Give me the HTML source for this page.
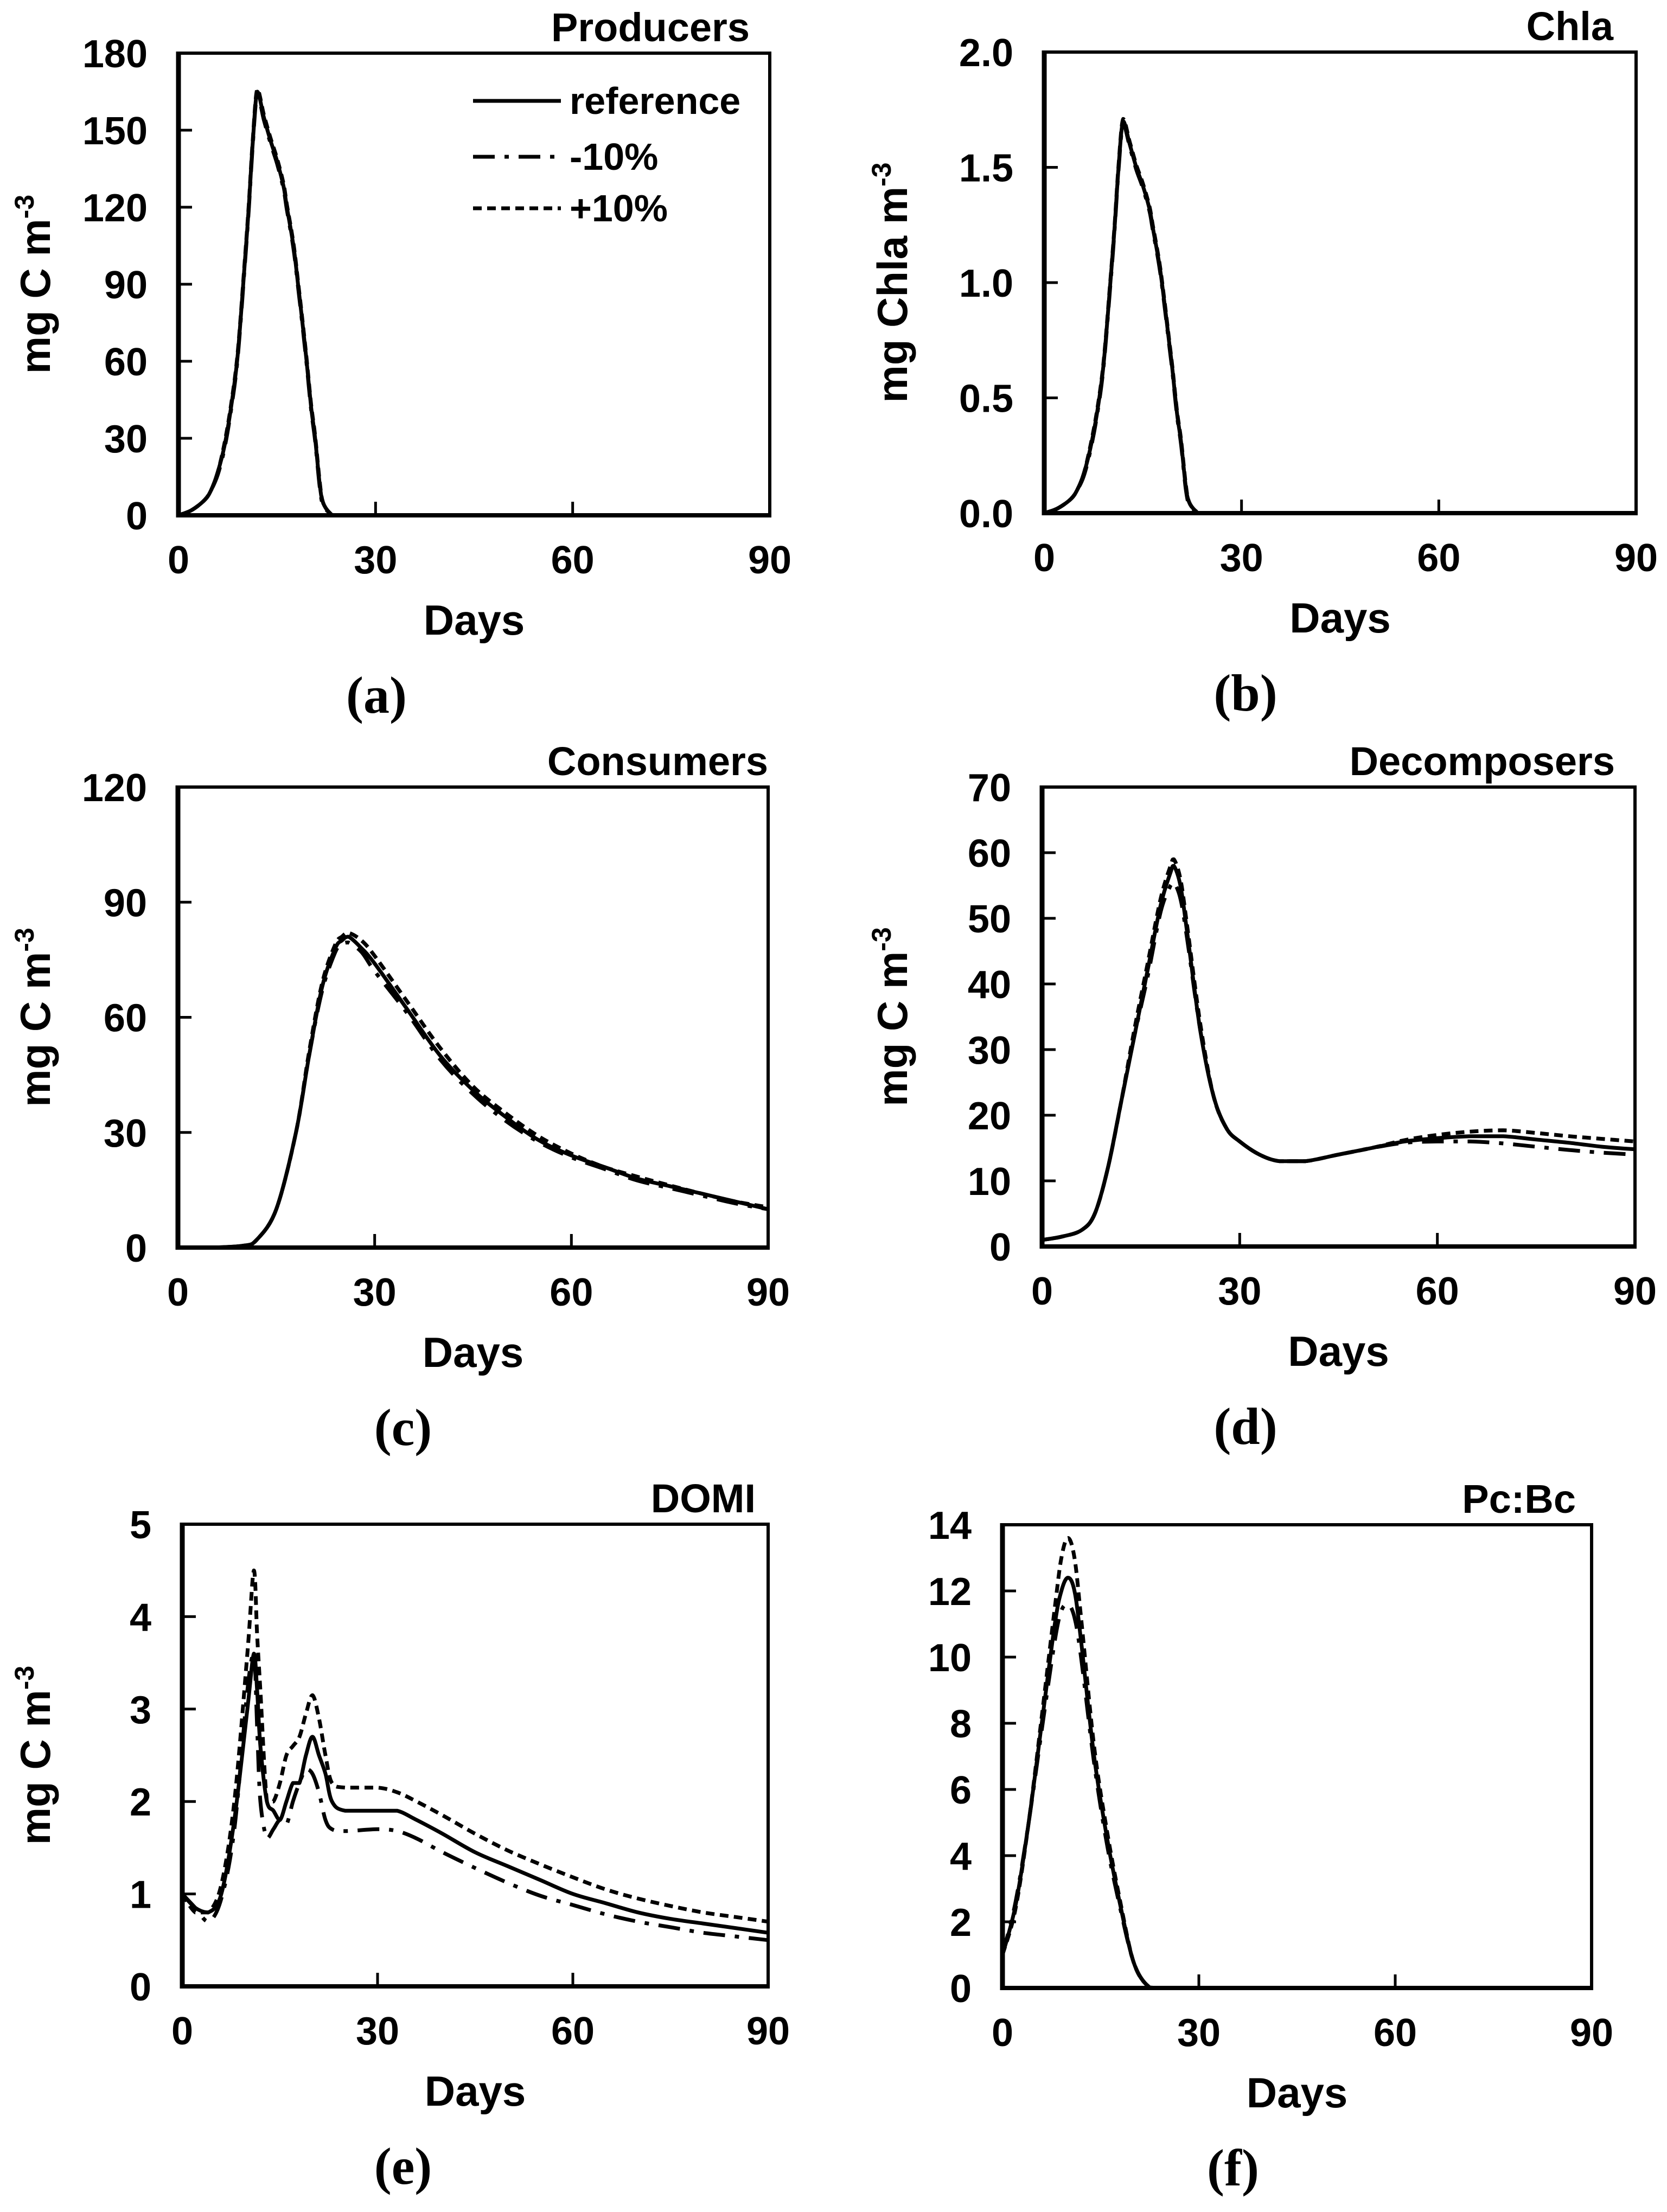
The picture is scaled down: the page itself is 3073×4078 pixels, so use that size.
<!DOCTYPE html>
<html>
<head>
<meta charset="utf-8">
<style>
  html, body { margin: 0; padding: 0; background: #fff; }
  svg { display: block; }
  text { font-family: "Liberation Sans", Arial, sans-serif; fill: #000; }
  .tick { font-size: 72px; font-weight: bold; }
  .atitle { font-size: 78px; font-weight: bold; }
  .ptitle { font-size: 74px; font-weight: bold; }
  .plabel { font-family: "Liberation Serif", "Times New Roman", serif; font-size: 96px; font-weight: bold; }
  .leg { font-size: 70px; font-weight: bold; }
</style>
</head>
<body>
<svg id="fig" xmlns="http://www.w3.org/2000/svg" width="3073" height="4078" viewBox="0 0 3073 4078"></svg>
<script>
// ---------------- DATA ----------------
const xTicks = [0, 30, 60, 90];
const xTickLabels = ["0", "30", "60", "90"];

// (a) Producers
const aDays = [0,2,4,5,6,7,8,9,10,10.7,11.3,12,13,14,15,16,16.5,17.5,18.2,19,19.5,20.2,20.8,21.5,22,23,24,90];
const aRef  = [0,2,6,10,17,27,42,62,95,120,145,165,155,146,138,128,120,105,90,72,60,42,30,12,5,1,0,0];
const aMinus= [0,2,6,10,16,26,41,61,94,119,144,164,154,145,137,127,119,104,89,71,59,41,29,11,4,1,0,0];
const aPlus = [0,2,6,10,17,28,43,63,96,121,146,166,156,147,139,129,121,106,91,73,61,43,31,13,5,1,0,0];
const aYTicks = [0,30,60,90,120,150,180];
const aYLabels = ["0","30","60","90","120","150","180"];

// (b) Chla
const bDays = [0,2,4,5,6,7,8,9,10,10.7,11.3,12,13,14,15,16,16.5,17.5,18.2,19,19.5,20.2,20.8,21.5,22,23,24,90];
const bRef  = [0,0.02,0.06,0.1,0.17,0.28,0.43,0.64,0.98,1.24,1.5,1.70,1.6,1.5,1.42,1.32,1.24,1.08,0.93,0.74,0.62,0.43,0.31,0.12,0.05,0.01,0,0];
const bMinus= [0,0.02,0.06,0.1,0.16,0.27,0.42,0.63,0.97,1.23,1.49,1.69,1.59,1.49,1.41,1.31,1.23,1.07,0.92,0.73,0.61,0.42,0.3,0.11,0.04,0.01,0,0];
const bPlus = [0,0.02,0.06,0.1,0.17,0.29,0.44,0.65,0.99,1.25,1.51,1.71,1.61,1.51,1.43,1.33,1.25,1.09,0.94,0.75,0.63,0.44,0.32,0.13,0.05,0.01,0,0];
const bYTicks = [0,0.5,1.0,1.5,2.0];
const bYLabels = ["0.0","0.5","1.0","1.5","2.0"];

// (c) Consumers
const cDays = [0,5,10,12,15,18,20,22,24,25,26,28,30,35,40,45,50,55,60,65,70,75,80,85,90];
const cRef  = [0,0,0.5,2,10,30,50,68,78,80,81,78,74,62,50,41,34,28,24,21,18,16,14,12,10];
const cMinus= [0,0,0.5,2,10,30,50,67,77,79,79.5,77,72,61,49,40,33,27.5,23.5,20.5,17.5,15.5,13.5,11.5,10];
const cPlus = [0,0,0.5,2,10,30,51,69,79,81,82,80,76,64,52,42,35,29,24.5,21,18.5,16.2,14,12,10.5];
const cYTicks = [0,30,60,90,120];
const cYLabels = ["0","30","60","90","120"];

// (d) Decomposers
const dDays = [0,3,6,8,10,12,14,16,18,19.5,20,21,22,24,26,28,30,33,36,40,45,50,55,60,65,70,75,80,85,90];
const dRef  = [1,1.5,2.5,5,12,22,32,42,52,57,58,55,48,33,23,18,16,14,13,13,14,15,16,16.5,16.8,16.8,16.3,15.8,15.2,14.8];
const dMinus= [1,1.5,2.5,5,12,22,32,41,51,55,55.5,53,47,33,23,18,16,14,13,13,14,15,15.8,16,16,15.7,15.2,14.7,14.3,14];
const dPlus = [1,1.5,2.5,5,12,22,33,43,53,58,59,56,49,34,23,18,16,14,13,13,14,15,16.2,17,17.5,17.7,17.3,16.8,16.4,16];
const dYTicks = [0,10,20,30,40,50,60,70];
const dYLabels = ["0","10","20","30","40","50","60","70"];

// (e) DOMI
const eDays = [0,2,4,6,8,10,11,11.5,12,13,14,15,16,17,18,19,20,21,22,23,25,30,33,36,40,45,50,55,60,65,70,75,80,85,90];
const eRef  = [1,0.85,0.8,1.0,1.8,3.0,3.6,3.2,2.6,2.0,1.9,1.8,2.0,2.2,2.2,2.5,2.7,2.5,2.3,2.0,1.9,1.9,1.9,1.8,1.65,1.45,1.3,1.15,1.0,0.9,0.8,0.73,0.68,0.63,0.58];
const eMinus= [1,0.85,0.7,0.95,1.7,3.2,3.6,2.8,2.0,1.6,1.7,1.8,1.75,2.0,2.2,2.35,2.3,2.1,1.8,1.7,1.68,1.7,1.68,1.6,1.45,1.28,1.12,0.98,0.88,0.78,0.7,0.64,0.58,0.54,0.5];
const ePlus = [1,0.8,0.8,1.1,2.0,3.6,4.5,3.8,3.2,2.0,2.0,2.2,2.5,2.6,2.7,2.95,3.15,2.9,2.5,2.2,2.15,2.15,2.1,2.0,1.85,1.65,1.47,1.32,1.18,1.05,0.95,0.87,0.8,0.75,0.7];
const eYTicks = [0,1,2,3,4,5];
const eYLabels = ["0","1","2","3","4","5"];

// (f) Pc:Bc
const fDays = [0,2,4,6,8,9,10,11,12,14,16,18,20,22,24,90];
const fRef  = [1,2.5,5,8,11,12,12.4,12,10.5,7,4.5,2.5,0.8,0.1,0,0];
const fMinus= [1,2.6,5,7.8,10.5,11.4,11.6,11.2,10,6.8,4.3,2.4,0.8,0.1,0,0];
const fPlus = [1,2.4,5,8.2,11.5,13,13.6,13,11.2,7.3,4.7,2.6,0.8,0.1,0,0];
const fYTicks = [0,2,4,6,8,10,12,14];
const fYLabels = ["0","2","4","6","8","10","12","14"];

// ---------------- DRAWING ----------------
const NS = "http://www.w3.org/2000/svg";
const svg = document.getElementById("fig");
const DASH_MINUS = "40 18 8 18";
const DASH_PLUS = "16 10";

function mk(tag, attrs, parent) {
  const el = document.createElementNS(NS, tag);
  for (const k in attrs) el.setAttribute(k, attrs[k]);
  (parent || svg).appendChild(el);
  return el;
}

function clamp(v, a, b) { const lo = Math.min(a, b), hi = Math.max(a, b); return Math.max(lo, Math.min(hi, v)); }

// smooth path (Catmull-Rom with control points clamped to segment range)
function smoothPath(pts) {
  let d = "M" + pts[0][0].toFixed(1) + "," + pts[0][1].toFixed(1);
  for (let i = 0; i < pts.length - 1; i++) {
    const p0 = pts[Math.max(0, i - 1)], p1 = pts[i], p2 = pts[i + 1], p3 = pts[Math.min(pts.length - 1, i + 2)];
    const t = 1 / 6;
    let c1x = p1[0] + (p2[0] - p0[0]) * t, c1y = p1[1] + (p2[1] - p0[1]) * t;
    let c2x = p2[0] - (p3[0] - p1[0]) * t, c2y = p2[1] - (p3[1] - p1[1]) * t;
    c1x = clamp(c1x, p1[0], p2[0]); c2x = clamp(c2x, p1[0], p2[0]);
    c1y = clamp(c1y, p1[1], p2[1]); c2y = clamp(c2y, p1[1], p2[1]);
    d += "C" + c1x.toFixed(1) + "," + c1y.toFixed(1) + " " + c2x.toFixed(1) + "," + c2y.toFixed(1) + " " + p2[0].toFixed(1) + "," + p2[1].toFixed(1);
  }
  return d;
}

function drawPanel(p) {
  const g = mk("g", {});
  
  
  const xs = d => p.L + (d - 0) / 90 * (p.R - p.L);
  const ys = v => p.B - (v - p.ymin) / (p.ymax - p.ymin) * (p.B - p.T);

  const series = [
    {name: "reference", vals: p.ref, dash: null},
    {name: "minus-10", vals: p.minus, dash: DASH_MINUS},
    {name: "plus-10", vals: p.plus, dash: DASH_PLUS}
  ];
  series.forEach(s => {
    const pts = p.days.map((day, i) => [xs(day), ys(s.vals[i])]);
    const path = mk("path", {d: smoothPath(pts), fill: "none", stroke: "#000", "stroke-width": 7, "stroke-linejoin": "round"}, g);
    if (s.dash) path.setAttribute("stroke-dasharray", s.dash);
    
    
  });

  const frame = mk("rect", {x: p.L, y: p.T, width: p.R - p.L, height: p.B - p.T, fill: "none", stroke: "#000", "stroke-width": 6}, g);
  
  
  const yax = mk("line", {x1: p.L, y1: p.T - 3, x2: p.L, y2: p.B + 4, stroke: "#000", "stroke-width": 9}, g);
  
  
  const xax = mk("line", {x1: p.L - 4, y1: p.B, x2: p.R + 3, y2: p.B, stroke: "#000", "stroke-width": 8}, g);
  
  

  p.yTicks.forEach((v, i) => {
    const y = ys(v);
    if (i > 0 && i < p.yTicks.length - 1) {
      const t = mk("line", {x1: p.L, y1: y, x2: p.L + 25, y2: y, stroke: "#000", "stroke-width": 5}, g);
      
      
    }
    const lab = mk("text", {x: p.L - 57, y: y + 26, "text-anchor": "end", class: "tick"}, g);
    lab.textContent = p.yLabels[i];
    
    
  });
  xTicks.forEach((v, i) => {
    const x = xs(v);
    if (i > 0 && i < xTicks.length - 1) {
      const t = mk("line", {x1: x, y1: p.B, x2: x, y2: p.B - 25, stroke: "#000", "stroke-width": 5}, g);
      
      
    }
    const lab = mk("text", {x: x, y: p.B + 107, "text-anchor": "middle", class: "tick"}, g);
    lab.textContent = xTickLabels[i];
    
    
  });

  const xt = mk("text", {x: (p.L + p.R) / 2, y: p.B + 220, "text-anchor": "middle", class: "atitle"}, g);
  xt.textContent = "Days";
  
  

  if (p.ytitle) {
    const cx = p.ytx, cy = (p.T + p.B) / 2;
    const yt = mk("text", {x: cx, y: cy, "text-anchor": "middle", class: "atitle", transform: "rotate(-90 " + cx + " " + cy + ")"}, g);
    yt.appendChild(document.createTextNode(p.ytitle + " m"));
    const sup = mk("tspan", {dy: -30, "font-size": "50px"}, yt);
    sup.textContent = "-3";
    
    
  }

  const tt = mk("text", {x: p.titleX, y: p.T - 22, "text-anchor": "end", class: "ptitle"}, g);
  tt.textContent = p.title;
  
  

  const pl = mk("text", {x: p.labX, y: p.B + 364, "text-anchor": "middle", class: "plabel"}, g);
  pl.appendChild(document.createTextNode("("));
  const letter = mk("tspan", {}, pl);
  letter.textContent = p.letter;
  pl.appendChild(document.createTextNode(")"));
  
  
}

const panels = [
  {key: "producers", L: 329, R: 1419, T: 98, B: 950, ymin: 0, ymax: 180, days: aDays, ref: aRef, minus: aMinus, plus: aPlus, yTicks: aYTicks, yLabels: aYLabels, ytitle: "mg C", ytx: 92, title: "Producers", titleX: 1382, letter: "a", labX: 694},
  {key: "chla", L: 1925, R: 3016, T: 96, B: 946, ymin: 0, ymax: 2, days: bDays, ref: bRef, minus: bMinus, plus: bPlus, yTicks: bYTicks, yLabels: bYLabels, ytitle: "mg Chla", ytx: 1672, title: "Chla", titleX: 2974, letter: "b", labX: 2296},
  {key: "consumers", L: 328, R: 1416, T: 1451, B: 2300, ymin: 0, ymax: 120, days: cDays, ref: cRef, minus: cMinus, plus: cPlus, yTicks: cYTicks, yLabels: cYLabels, ytitle: "mg C", ytx: 92, title: "Consumers", titleX: 1416, letter: "c", labX: 743},
  {key: "decomposers", L: 1921, R: 3014, T: 1451, B: 2298, ymin: 0, ymax: 70, days: dDays, ref: dRef, minus: dMinus, plus: dPlus, yTicks: dYTicks, yLabels: dYLabels, ytitle: "mg C", ytx: 1672, title: "Decomposers", titleX: 2977, letter: "d", labX: 2296},
  {key: "domi", L: 336, R: 1416, T: 2810, B: 3662, ymin: 0, ymax: 5, days: eDays, ref: eRef, minus: eMinus, plus: ePlus, yTicks: eYTicks, yLabels: eYLabels, ytitle: "mg C", ytx: 92, title: "DOMI", titleX: 1393, letter: "e", labX: 743},
  {key: "pc-bc", L: 1848, R: 2934, T: 2811, B: 3665, ymin: 0, ymax: 14, days: fDays, ref: fRef, minus: fMinus, plus: fPlus, yTicks: fYTicks, yLabels: fYLabels, ytitle: null, ytx: 0, title: "Pc:Bc", titleX: 2905, letter: "f", labX: 2273}
];
panels.forEach(drawPanel);

const legend = mk("g", {});


const legItems = [
  {label: "reference", dash: null, y: 186},
  {label: "-10%", dash: DASH_MINUS, y: 289},
  {label: "+10%", dash: DASH_PLUS, y: 384}
];
legItems.forEach(it => {
  const ln = mk("line", {x1: 872, y1: it.y, x2: 1034, y2: it.y, stroke: "#000", "stroke-width": 7}, legend);
  if (it.dash) ln.setAttribute("stroke-dasharray", it.dash);
  
  
  const tx = mk("text", {x: 1050, y: it.y + 24, class: "leg"}, legend);
  tx.textContent = it.label;
  
  
});
</script>
</body>
</html>
